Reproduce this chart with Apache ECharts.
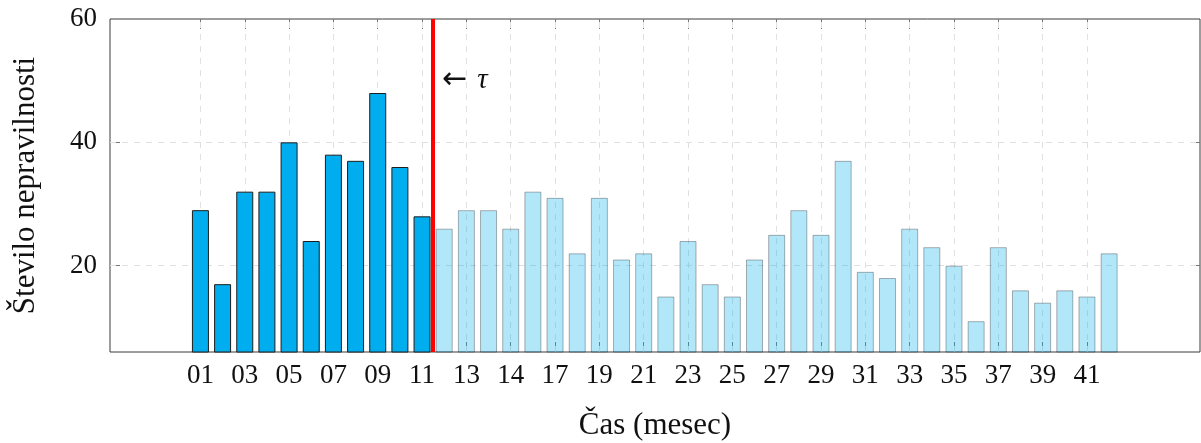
<!DOCTYPE html>
<html>
<head>
<meta charset="utf-8">
<script src="https://cdn.jsdelivr.net/npm/echarts@6/dist/echarts.min.js"></script>
<style>html,body{margin:0;padding:0;background:#fff;}#c{width:1201px;height:443px;}</style>
</head>
<body>
<div id="c"></div>
<script>
// ---- data ----
var categories = ["01","02","03","04","05","06","07","08","09","10","11","12","13","14","15","16","17","18","19","20","21","22","23","24","25","26","27","28","29","30","31","32","33","34","35","36","37","38","39","40","41","42"];
var valuesBefore = [29,17,32,32,40,24,38,37,48,36,28];
var valuesAfter = [26,29,29,26,32,31,22,31,21,22,15,24,17,15,21,25,29,25,37,19,18,26,23,20,11,23,16,14,16,15,22];
var xTickPositions = [1,3,5,7,9,11,13,15,17,19,21,23,25,27,29,31,33,35,37,39,41];
var xTickLabels = ["01","03","05","07","09","11","13","14","17","19","21","23","25","27","29","31","33","35","37","39","41"];
var yTickValues = [20,40,60];
var yGridValues = [20,40];
var changePoint = 11.5;

var FONT = '"Liberation Serif", "DejaVu Serif", serif';
var chart = echarts.init(document.getElementById('c'));

var beforeData = valuesBefore.map(function(v,i){ return [i+1, v]; });
var afterData = valuesAfter.map(function(v,i){ return [valuesBefore.length+i+1, v]; });

var gridLineStyle = {color:'#e0e0e0', type:[6,6], width:1};
var tickStyle = {color:'#777', width:1};

chart.setOption({
  animation:false,
  grid:{left:110, right:1, top:19, bottom:91, show:true, borderColor:'#3a3a3a', borderWidth:1, containLabel:false, outerBoundsMode:'none'},
  xAxis:[{
    type:'value', min:-3.08, max:46.1, position:'bottom',
    axisLine:{show:false, onZero:false},
    splitLine:{show:false},
    axisTick:{show:true, inside:true, length:10, customValues:xTickPositions, lineStyle:tickStyle},
    axisLabel:{show:true, customValues:xTickPositions, margin:10, fontFamily:FONT, fontSize:27, color:'#111',
      formatter:function(v){ var i=xTickPositions.indexOf(Math.round(v)); return i>=0?xTickLabels[i]:''; }},
    name:'Čas (mesec)', nameLocation:'middle', nameGap:58,
    nameTextStyle:{fontFamily:FONT, fontSize:31, color:'#111'}
  },{
    type:'value', min:-3.08, max:46.1, position:'top',
    axisLine:{show:false, onZero:false}, splitLine:{show:false}, axisLabel:{show:false},
    axisTick:{show:true, inside:true, length:10, customValues:xTickPositions, lineStyle:tickStyle}
  }],
  yAxis:[{
    type:'value', min:6, max:60, position:'left',
    axisLine:{show:false, onZero:false}, splitLine:{show:false},
    axisTick:{show:true, inside:true, length:10, customValues:yGridValues, lineStyle:tickStyle},
    axisLabel:{show:true, customValues:yTickValues, margin:13, fontFamily:FONT, fontSize:27, color:'#111'},
    name:'Število nepravilnosti', nameLocation:'middle', nameGap:69, nameRotate:90,
    nameTextStyle:{fontFamily:FONT, fontSize:31, color:'#111'}
  },{
    type:'value', min:6, max:60, position:'right',
    axisLine:{show:false, onZero:false}, splitLine:{show:false}, axisLabel:{show:false},
    axisTick:{show:true, inside:true, length:10, customValues:yGridValues, lineStyle:tickStyle}
  }],
  series:[{
    type:'line', data:[], z:1, silent:true,
    markLine:{z:1, silent:true, symbol:['none','none'], label:{show:false}, lineStyle:gridLineStyle,
      data: xTickPositions.map(function(x){return {xAxis:x};}).concat(yGridValues.map(function(y){return {yAxis:y};}))}
  },{
    type:'bar', data:beforeData, barWidth:17, barGap:'-100%', z:3,
    itemStyle:{color:'#00AEEF', borderColor:'#1e1e1e', borderWidth:1}
  },{
    type:'bar', data:afterData, barWidth:17, barGap:'-100%', z:3,
    itemStyle:{color:'rgba(0,174,239,0.3)', borderColor:'rgba(0,0,0,0.3)', borderWidth:1}
  },{
    type:'line', data:[], z:6, silent:true,
    markLine:{z:6, silent:true, symbol:['none','none'], label:{show:false},
      lineStyle:{color:'#ff0000', width:4, type:'solid'},
      data:[{xAxis:changePoint}]},
    markPoint:{z:6, silent:true, symbol:'circle', symbolSize:0,
      data:[{coord:[changePoint, 50.1]}],
      label:{show:true, position:'right', distance:9,
        formatter:'{a|←}{s|}{b|τ}',
        rich:{a:{fontFamily:'"DejaVu Sans"', fontSize:30, color:'#111'}, s:{width:10}, b:{fontFamily:FONT, fontSize:29, fontStyle:'italic', color:'#111'}}}}
  }]
});
</script>
</body>
</html>
